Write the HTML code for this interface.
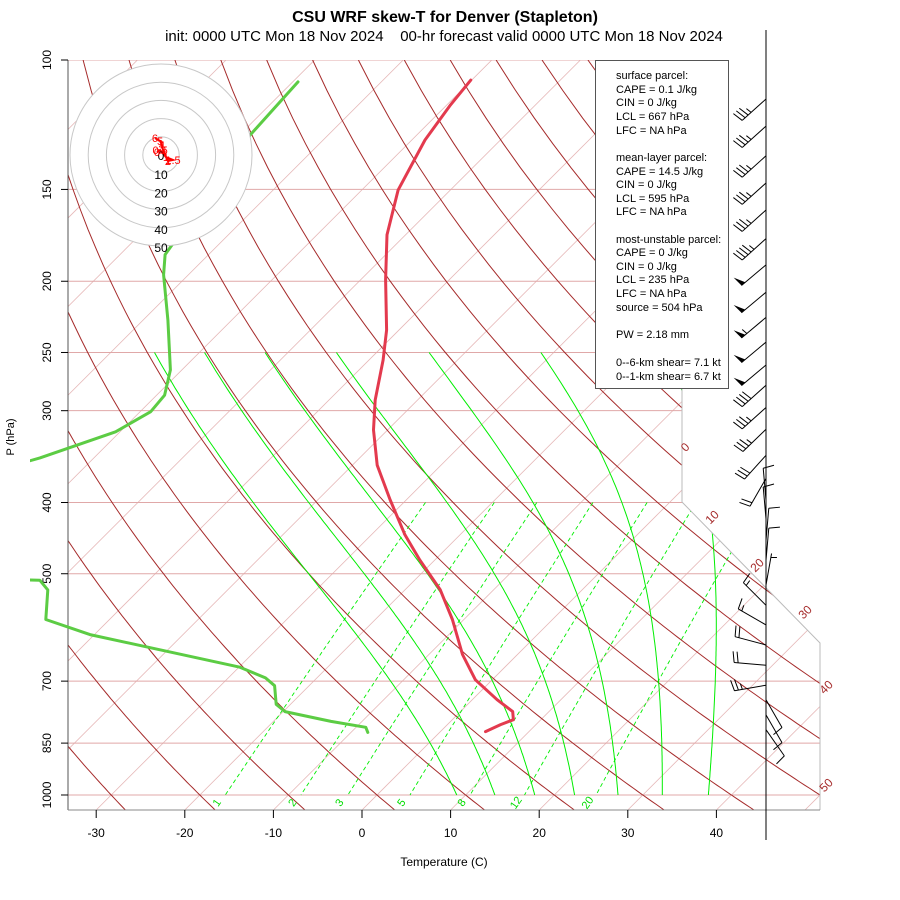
<!DOCTYPE html>
<html><head><meta charset="utf-8"><style>
body{margin:0;background:#fff;}
svg{display:block;font-family:"Liberation Sans",sans-serif;}
</style></head><body>
<svg id="chart" width="900" height="900" viewBox="0 0 900 900" xmlns="http://www.w3.org/2000/svg">
<defs><clipPath id="plotclip"><path d="M68,60 L682,60 L682,502 L820,643 L820,810 L68,810 Z"/></clipPath>
<clipPath id="profclip"><path d="M30,60 L682,60 L682,502 L820,643 L820,810 L30,810 Z"/></clipPath></defs>
<rect width="900" height="900" fill="#fff"/>
<text x="445" y="22" text-anchor="middle" font-size="16" font-weight="bold">CSU WRF skew-T for Denver (Stapleton)</text>
<text x="444" y="41" text-anchor="middle" font-size="15" style="white-space:pre">init: 0000 UTC Mon 18 Nov 2024&#160;&#160;&#160;&#160;00-hr forecast valid 0000 UTC Mon 18 Nov 2024</text>
<g id="bg" clip-path="url(#plotclip)"></g>
<g id="bglbl"></g>
<g id="axes"></g>
<g id="profiles" clip-path="url(#profclip)"></g>
<g id="hodo"></g>
<g>
<rect x="595.5" y="60.5" width="133" height="328" fill="#fff" stroke="#555"/>
<text font-size="11" fill="#000">
<tspan x="616" y="79">surface parcel:</tspan>
<tspan x="616" y="93">CAPE = 0.1 J/kg</tspan>
<tspan x="616" y="106">CIN = 0 J/kg</tspan>
<tspan x="616" y="120">LCL = 667 hPa</tspan>
<tspan x="616" y="134">LFC = NA hPa</tspan>
<tspan x="616" y="161">mean-layer parcel:</tspan>
<tspan x="616" y="175">CAPE = 14.5 J/kg</tspan>
<tspan x="616" y="188">CIN = 0 J/kg</tspan>
<tspan x="616" y="202">LCL = 595 hPa</tspan>
<tspan x="616" y="215">LFC = NA hPa</tspan>
<tspan x="616" y="243">most-unstable parcel:</tspan>
<tspan x="616" y="256">CAPE = 0 J/kg</tspan>
<tspan x="616" y="270">CIN = 0 J/kg</tspan>
<tspan x="616" y="283">LCL = 235 hPa</tspan>
<tspan x="616" y="297">LFC = NA hPa</tspan>
<tspan x="616" y="311">source = 504 hPa</tspan>
<tspan x="616" y="338">PW =  2.18 mm</tspan>
<tspan x="616" y="366">0--6-km shear= 7.1 kt</tspan>
<tspan x="616" y="380">0--1-km shear= 6.7 kt</tspan>
</text></g>
<g id="barbs"></g>
<text x="444" y="866" text-anchor="middle" font-size="12">Temperature (C)</text>
<text transform="translate(14,437) rotate(-90)" text-anchor="middle" font-size="11">P (hPa)</text>
</svg>
<script>
const P_TICKS=[100,150,200,250,300,400,500,700,850,1000];
const T_TICKS=[-30,-20,-10,0,10,20,30,40];
const ISO_LABELS=[0,10,20,30,40,50];
const MIX_RATIOS=[1,2,3,5,8,12,20];
const MOIST_T0=[9,13.3,17.8,22.3,27.2,32.2,37.4];
const tempP=[106.5,115.1,128.5,150.3,172.9,199,233,256,290,318.6,355.9,396.9,442.7,478.9,526,577,644,697,742,770,790,802,820];
const tempT=[-70.1,-69.6,-68.5,-65.9,-62.1,-57.2,-51.4,-48.4,-44.8,-41.6,-37.2,-31.8,-26.2,-21.7,-16.0,-11.3,-6.2,-1.9,2.8,5.9,6.9,6.0,5.1];
const dewP=[107.1,126.5,150,184,196,225.9,264,285.8,301,320.5,347.8,430,500,510.3,526,577,605,670,693,710,753,770,794,809,822];
const dewT=[-89.4,-88.8,-87,-84.9,-82.8,-77.2,-71.3,-69.1,-68.8,-70.5,-76.1,-95,-95,-62.3,-60.3,-57.2,-50.5,-29.9,-25.8,-23.9,-21.6,-19.8,-13.5,-8.9,-8.1];
const barbP=[113,123,135,147,160,175,190,207,224,242,260,277,297,318,345,371,397,421,450,479,518,552,587,625,666,709,742,778,815];
const barbDir=[228,228,228,228,228,228,230,230,230,230,230,228,228,226,222,210,355,355,5,5,10,315,300,285,275,260,150,150,145];
const barbSpd=[35,35,35,35,35,45,50,50,55,50,50,40,35,35,30,20,10,10,10,10,5,15,15,20,20,25,10,10,10];
const hodoLbl=["0","0.5","1","1.5","2","3","4","5","6"];
const hodoU=[-2.2,-0.5,2.7,6.6,3.8,1.1,0.5,-0.5,-3.3];
const hodoV=[1.6,2.7,-1.1,-2.7,-3.3,2.7,5.5,7.7,9.3];

const NS="http://www.w3.org/2000/svg";
function yP(p){return 60+319.2*Math.log(p/100);}
function xT(T,p){return 362+8.86*T+(810-yP(p));}
function mk(tag,attrs,parent){const e=document.createElementNS(NS,tag);for(const k in attrs)e.setAttribute(k,attrs[k]);parent.appendChild(e);return e;}
const bg=document.getElementById('bg'),bgl=document.getElementById('bglbl'),ax=document.getElementById('axes'),pr=document.getElementById('profiles'),hg=document.getElementById('hodo'),bb=document.getElementById('barbs');

for(let T=-160;T<=50;T+=10){
  const x0=362+8.86*T;
  const l=mk('line',{x1:x0,y1:810,x2:x0+760,y2:50,stroke:'#e6b8b8','stroke-width':0.8},bg);
  
  
}
P_TICKS.forEach(p=>{
  const y=yP(p);
  const l=mk('line',{x1:68,y1:y,x2:820,y2:y,stroke:'#e0a8a8','stroke-width':1},bg);
  
  
});
for(let th=-30;th<=200;th+=10){
  let d='';
  for(let p=100;p<=1050;p+=10){
    const T=(th+273.15)*Math.pow(p/1000,0.2857)-273.15;
    d+=(p===100?'M':'L')+xT(T,p).toFixed(1)+','+yP(p).toFixed(1);
  }
  const l=mk('path',{d:d,fill:'none',stroke:'#a52a2a','stroke-width':1},bg);
  
  
}
function es(T){return 6.112*Math.exp(17.67*T/(T+243.5));}
function tdFromE(e){const a=Math.log(e/6.112);return 243.5*a/(17.67-a);}
MIX_RATIOS.forEach(w=>{
  let d='';
  for(let p=400;p<=1000;p+=10){
    const e=w*p/(622+w);const T=tdFromE(e);
    d+=(p===400?'M':'L')+xT(T,p).toFixed(1)+','+yP(p).toFixed(1);
  }
  const l=mk('path',{d:d,fill:'none',stroke:'#00ee00','stroke-width':0.9,'stroke-dasharray':'4,3'},bg);
  
  
  const e=w*1000/(622+w);const x=xT(tdFromE(e),1000);
  const t=mk('text',{x:x-8,y:806,'font-size':11,fill:'#00dd00','text-anchor':'middle',transform:`rotate(-55 ${x-8} 803)`},bgl);
  t.textContent=w;
  
  
});
MOIST_T0.forEach(T0=>{
  let T=T0,d='M'+xT(T,1000).toFixed(1)+','+yP(1000).toFixed(1);
  for(let p=1000;p>250;p-=5){
    const Tk=T+273.15,e=es(T),ws=0.6*0.622*e/(p-e);
    const dTdp=(287*Tk+2.5e6*ws)/(p*(1005+2.5e6*2.5e6*ws*0.622/(287*Tk*Tk)));
    T-=dTdp*5;
    d+='L'+xT(T,p-5).toFixed(1)+','+yP(p-5).toFixed(1);
  }
  const l=mk('path',{d:d,fill:'none',stroke:'#00ee00','stroke-width':1},bg);
  
  
});
const bd=mk('path',{d:'M682,60 L682,502 L820,643 L820,810',fill:'none',stroke:'#bbb','stroke-width':1},bgl);


const isoPos=[[688,450],[715,520],[760,568],[808,615],[829,690],[829,788]];
ISO_LABELS.forEach((v,i)=>{
  const [x,y]=isoPos[i];
  const t=mk('text',{x:x,y:y,'font-size':12,fill:'#a52a2a','text-anchor':'middle',transform:`rotate(-45 ${x} ${y})`},bgl);
  t.textContent=v;
  
  
});
const la=mk('line',{x1:68,y1:60,x2:68,y2:810,stroke:'#555','stroke-width':1},ax);


const ba=mk('line',{x1:68,y1:810,x2:820,y2:810,stroke:'#888','stroke-width':1},ax);


P_TICKS.forEach(p=>{
  const y=yP(p);
  mk('line',{x1:61,y1:y,x2:68,y2:y,stroke:'#000'},ax);
  const t=mk('text',{x:0,y:0,'font-size':12,'text-anchor':'middle',transform:`translate(51,${y}) rotate(-90)`},ax);
  t.textContent=p;
  
  
});
T_TICKS.forEach(T=>{
  const x=362+8.86*T;
  mk('line',{x1:x,y1:810,x2:x,y2:818,stroke:'#000'},ax);
  const t=mk('text',{x:x,y:837,'font-size':12,'text-anchor':'middle'},ax);
  t.textContent=T;
  
  
});
function prof(P,Tv,color,name){
  let d='';P.forEach((p,i)=>{d+=(i?'L':'M')+xT(Tv[i],p).toFixed(1)+','+yP(p).toFixed(1);});
  const l=mk('path',{d:d,fill:'none',stroke:color,'stroke-width':3,'stroke-linejoin':'round','stroke-linecap':'round'},pr);
  
  
}
prof(dewP,dewT,'#5ccc44','dewpoint-profile');
prof(tempP,tempT,'#e33a4e','temperature-profile');
const cx=161,cy=155,sc=1.82;
for(let r=50;r>=10;r-=10){
  const c=mk('circle',{cx:cx,cy:cy,r:r*sc,fill:'#fff',stroke:'#c8c8c8','stroke-width':1},hg);
  
  
}
for(let r=10;r<=50;r+=10){
  const t=mk('text',{x:cx,y:cy+r*sc+6,'font-size':12,'text-anchor':'middle'},hg);
  t.textContent=r;
  
  
}
let hd='';hodoU.forEach((u,i)=>{hd+=(i?'L':'M')+(cx+u*sc).toFixed(1)+','+(cy-hodoV[i]*sc).toFixed(1);});
const hl=mk('path',{d:hd,fill:'none',stroke:'#f00','stroke-width':2},hg);


const z=mk('text',{x:cx,y:cy+5,'font-size':12,'text-anchor':'middle'},hg);z.textContent='0';
hodoLbl.forEach((s,i)=>{
  const t=mk('text',{x:cx+hodoU[i]*sc,y:cy-hodoV[i]*sc+4,'font-size':11,fill:'#f00','text-anchor':'middle'},hg);
  t.textContent=s;
  
  
});
const stl=mk('line',{x1:766,y1:30,x2:766,y2:840,stroke:'#000','stroke-width':1},bb);


barbP.forEach((p,i)=>{
  const ox=766,oy=yP(p),a=barbDir[i]*Math.PI/180;
  const sx=Math.sin(a),sy=-Math.cos(a),fx=-sy,fy=sx,L=32;
  const g=mk('g',{},bb);
  
  
  mk('line',{x1:ox,y1:oy,x2:ox+sx*L,y2:oy+sy*L,stroke:'#000','stroke-width':1},g);
  let s=Math.round(barbSpd[i]/5)*5,pos=L;
  while(s>=50){
    const qx=ox+sx*pos,qy=oy+sy*pos;
    mk('polygon',{points:`${qx},${qy} ${qx+fx*11+sx*1},${qy+fy*11+sy*1} ${qx-sx*5},${qy-sy*5}`,fill:'#000'},g);
    pos-=7;s-=50;
  }
  while(s>=10){
    const qx=ox+sx*pos,qy=oy+sy*pos;
    mk('line',{x1:qx,y1:qy,x2:qx+fx*11+sx*2,y2:qy+fy*11+sy*2,stroke:'#000'},g);
    pos-=4;s-=10;
  }
  if(s>=5){
    if(pos===L)pos-=4;
    const qx=ox+sx*pos,qy=oy+sy*pos;
    mk('line',{x1:qx,y1:qy,x2:qx+fx*6+sx*1,y2:qy+fy*6+sy*1,stroke:'#000'},g);
  }
});
</script>
</body></html>
